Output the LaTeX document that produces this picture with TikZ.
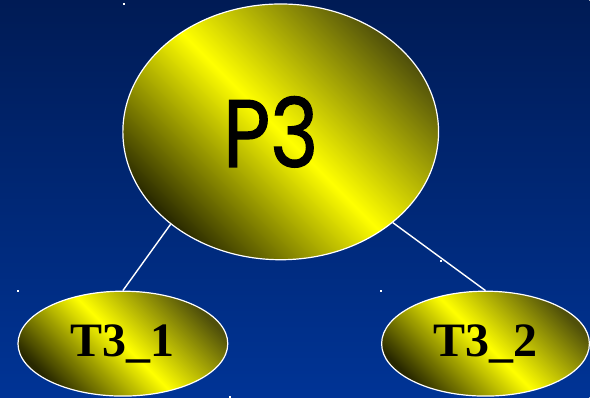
\documentclass[tikz,border=0pt]{standalone}
\usepackage{fontspec}
\usepackage{tikz}
\usetikzlibrary{shapes.geometric}
\newfontfamily\tnodefont{Liberation Serif}
\newfontfamily\pnodefont[FakeBold=1.2]{Poppins}
\definecolor{skytop}{RGB}{0,27,85}
\definecolor{skybottom}{RGB}{0,52,150}
\definecolor{olivedark}{RGB}{80,80,10}
\definecolor{olivedeep}{RGB}{40,40,0}
\tikzset{
  oval/.style={ellipse,draw=white,line width=1.2pt,inner sep=0pt,
    shading=axis,top color=olivedark,bottom color=olivedeep,middle color=yellow,
    shading angle=-45},
  ovaltext/.style={font=\tnodefont\bfseries\fontsize{48}{48}\selectfont},
  branch/.style={draw=white,line width=1.4pt}
}

\begin{document}
\begin{tikzpicture}[x=1pt,y=1pt]

			\fill[top color=skytop,bottom color=skybottom] (0,0) rectangle (590,398);

			\node[oval,minimum width=316pt,minimum height=256pt] (P3) at (281,266) {};
			\node[xscale=0.85,font=\pnodefont\fontsize{96}{96}\selectfont] (P3text) at (271,266) {P3};
			\node[oval,minimum width=210pt,minimum height=105pt,ovaltext] (T31) at (123,54) {T3\_1};
			\node[oval,minimum width=208pt,minimum height=105pt,ovaltext] (T32) at (486,54) {T3\_2};

			\draw[branch] (P3.220) -- (T31.north);
			\draw[branch] (P3.321) -- (T32.north);

			\foreach \x/\y in {124/394,18/107,381/107,441/137,230/1}
				\fill[white] (\x-1,\y-1) rectangle (\x+1,\y+1);

		\end{tikzpicture}
\end{document}
